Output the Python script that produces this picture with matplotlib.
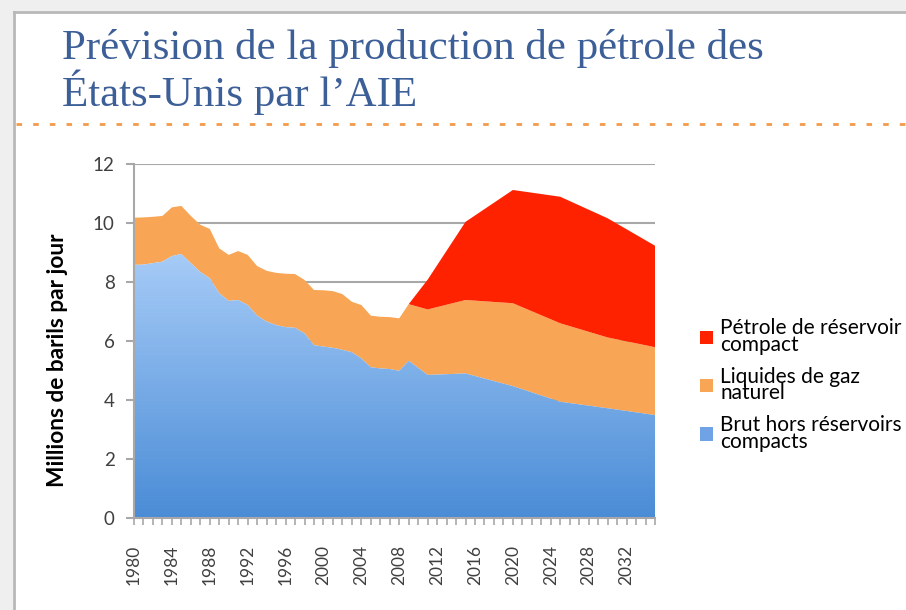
import numpy as np
import matplotlib.pyplot as plt
from matplotlib.patches import Rectangle, Patch
from matplotlib.lines import Line2D
from matplotlib.colors import LinearSegmentedColormap

# Production pétrolière des États-Unis (Mb/j)
years = [1980, 1981, 1982, 1983, 1984, 1985, 1986, 1987, 1988, 1989,
         1990, 1991, 1992, 1993, 1994, 1995, 1996, 1997, 1998, 1999,
         2000, 2001, 2002, 2003, 2004, 2005, 2006, 2007, 2008, 2009,
         2011, 2015, 2020, 2025, 2030, 2035]
brut = [8.59, 8.60, 8.65, 8.70, 8.89, 8.96, 8.65, 8.35, 8.14, 7.63,
        7.37, 7.40, 7.23, 6.87, 6.67, 6.55, 6.48, 6.46, 6.27, 5.87,
        5.82, 5.78, 5.71, 5.63, 5.42, 5.12, 5.08, 5.06, 5.00, 5.34,
        4.86, 4.91, 4.48, 3.95, 3.73, 3.50]
total_hors_compact = [10.19, 10.20, 10.22, 10.25, 10.54, 10.59, 10.25, 9.95, 9.81, 9.15,
                      8.93, 9.06, 8.93, 8.55, 8.39, 8.32, 8.29, 8.28, 8.08, 7.74,
                      7.73, 7.70, 7.60, 7.34, 7.23, 6.87, 6.83, 6.82, 6.78, 7.26,
                      7.08, 7.40, 7.29, 6.61, 6.13, 5.80]
lgn = [t - b for t, b in zip(total_hors_compact, brut)]
compact = [0.0] * 30 + [1.01, 2.65, 3.84, 4.29, 4.04, 3.44]

labels = ['Pétrole de réservoir\ncompact', 'Liquides de gaz\nnaturel',
          'Brut hors réservoirs\ncompacts']
title = 'Prévision de la production de pétrole des\nÉtats-Unis par l\u2019AIE'

red = '#ff2200'
orange = '#f8a655'

fig = plt.figure(figsize=(9.06, 6.10), dpi=100, facecolor='white')

# cadre gris de la diapositive (haut et gauche seulement)
W, H = 906, 610
fig.patches.append(Rectangle((0, 1 - 11 / H), 1, 11 / H, transform=fig.transFigure,
                             facecolor='#efefef', edgecolor='none'))
fig.patches.append(Rectangle((0, 0), 13 / W, 1, transform=fig.transFigure,
                             facecolor='#efefef', edgecolor='none'))
fig.add_artist(Line2D([14 / W, 1], [1 - 12 / H] * 2, transform=fig.transFigure,
                      color='#b8b8b8', linewidth=2))
fig.add_artist(Line2D([14 / W] * 2, [0, 1 - 12 / H], transform=fig.transFigure,
                      color='#b8b8b8', linewidth=2))

fig.text(62 / W, 1 - 29 / H, title, fontsize=31, color='#3d5f98',
         family='Liberation Serif', va='top', linespacing=1.03)
fig.add_artist(Line2D([16 / W, 1], [1 - 124 / H] * 2, transform=fig.transFigure,
                      color='#f39b4a', linewidth=2, dashes=(2, 4)))

ax = fig.add_axes([134 / W, 91.7 / H, 521 / W, 354 / H])

x = np.array(years, dtype=float)
b = np.array(brut)
o = b + np.array(lgn)
r = o + np.array(compact)

blue_fill = ax.fill_between(x, 0, b, facecolor='none', edgecolor='none', zorder=2)
ax.fill_between(x, b, o, facecolor=orange, edgecolor='none', zorder=2)
ax.fill_between(x[29:], o[29:], r[29:], facecolor=red, edgecolor='none', zorder=2)

# dégradé bleu
grad = np.linspace(0, 1, 256).reshape(-1, 1)
cmap = LinearSegmentedColormap.from_list('bl', ['#4a8cd6', '#a9cdf8'])
im = ax.imshow(grad, cmap=cmap, origin='lower', aspect='auto',
               extent=[1980, 2035, 0, 9.2], zorder=2)
im.set_clip_path(blue_fill.get_paths()[0], transform=ax.transData)

ax.set_xlim(1980, 2035)
ax.set_ylim(0, 12)
ax.set_yticks(range(0, 13, 2))
ax.set_xticks(range(1980, 2036, 4))
ax.set_xticks(range(1980, 2036), minor=True)
ax.grid(axis='y', color='#a8a8a8', linewidth=1.5, zorder=0)
ax.set_axisbelow(True)
for s in ['top', 'right']:
    ax.spines[s].set_visible(False)
for s in ['left', 'bottom']:
    ax.spines[s].set_color('#a8a8a8')
    ax.spines[s].set_linewidth(1.5)
ax.tick_params(axis='y', colors='#a8a8a8', labelcolor='#404040', length=6,
               width=1.5, labelsize=13.5, pad=8)
ax.tick_params(axis='x', which='both', colors='#a8a8a8', labelcolor='#404040',
               length=5, width=1.2, labelsize=12.5, pad=14, rotation=90)
for t in ax.get_xticklabels() + ax.get_yticklabels():
    t.set_family('Lato')

fig.text(58 / W, 1 - 360 / H, 'Millions de barils par jour', rotation=90,
         fontsize=16.3, fontweight='bold', family='Lato', ha='center', va='center')

handles = [Patch(facecolor=red), Patch(facecolor=orange), Patch(facecolor='#6fa3e6')]
leg = fig.legend(handles, labels, loc='upper left', bbox_to_anchor=(692 / W, 1 - 310 / H),
                 frameon=False, prop={'family': 'Lato', 'size': 15},
                 handlelength=0.6, handleheight=0.6, handletextpad=0.35,
                 labelspacing=0.55, borderaxespad=0)
for t in leg.get_texts():
    t.set_linespacing(0.8)

plt.savefig('out.png', dpi=100)
